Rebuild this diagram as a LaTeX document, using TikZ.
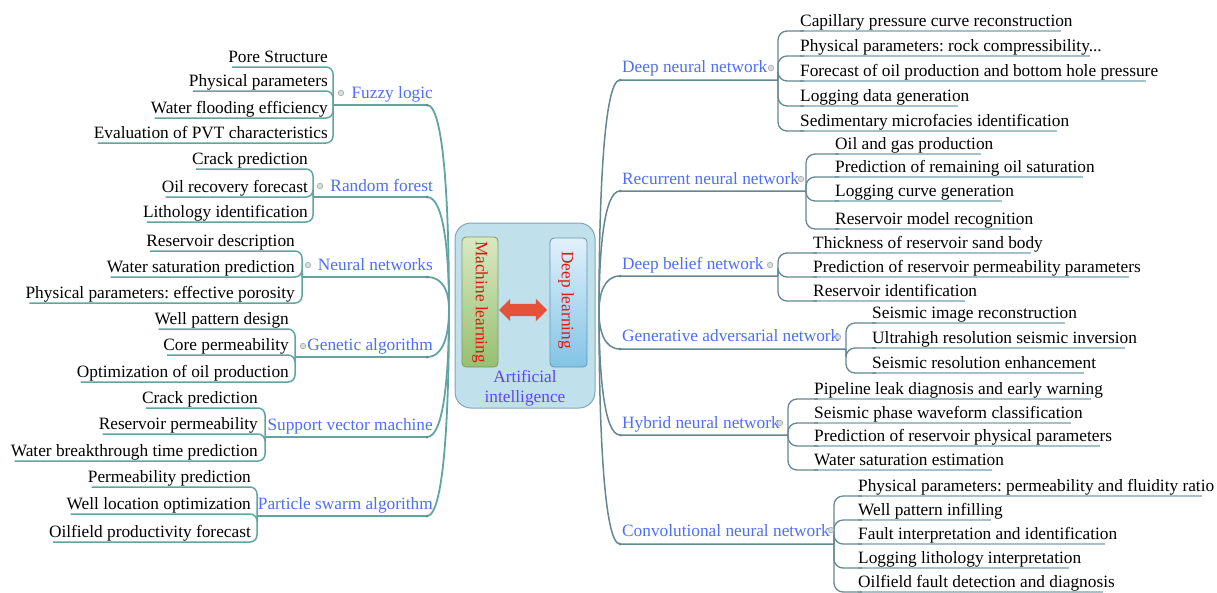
\documentclass[tikz,border=0pt]{standalone}
\usepackage{fontspec}
\setmainfont{Liberation Serif}
\usetikzlibrary{shapes.arrows}
\definecolor{labblue}{RGB}{77,110,245}
\definecolor{tealL}{RGB}{95,165,160}
\definecolor{slateR}{RGB}{100,135,145}
\definecolor{grayR}{RGB}{165,192,200}
\definecolor{knobgray}{RGB}{165,175,175}
\definecolor{knobfill}{RGB}{215,222,222}
\definecolor{aiblue}{RGB}{95,70,245}
\definecolor{redtxt}{RGB}{228,20,20}
\definecolor{arrowred}{RGB}{228,82,58}
\definecolor{outerfill}{RGB}{192,224,236}
\definecolor{outerdraw}{RGB}{130,165,180}
\frenchspacing
\begin{document}
\begin{tikzpicture}[x=1pt,y=-1pt, font=\fontsize{17.3}{20}\selectfont\frenchspacing,
 leafL/.style={anchor=base east, inner sep=0pt},
 leafR/.style={anchor=base west, inner sep=0pt},
 labL/.style={anchor=base east, inner sep=0pt, text=labblue},
 labR/.style={anchor=base west, inner sep=0pt, text=labblue},
 mainL/.style={draw=tealL, line width=1.8pt},
 brL/.style={draw=tealL, line width=1.5pt, rounded corners=7pt},
 mainR/.style={draw=slateR, line width=1.5pt},
 brR/.style={draw=slateR, line width=1.3pt, rounded corners=9pt},
 ulR/.style={draw=grayR, line width=1.6pt},
 knob/.style={circle, draw=knobgray, fill=knobfill, line width=0.7pt, inner sep=0pt, minimum size=5.5pt},
 tip/.style={circle, fill=slateR, inner sep=0pt, minimum size=3pt},
]
\useasboundingbox (0,0) rectangle (1217,592);

% ---------------- centre ----------------
\node[draw=outerdraw, line width=1pt, fill=outerfill, rounded corners=16pt, minimum width=140pt, minimum height=185pt, inner sep=0pt] (ai) at (525,315.5) {};
\node[draw={rgb,255:red,125;green,155;blue,100}, line width=0.8pt, top color={rgb,255:red,218;green,232;blue,195}, bottom color={rgb,255:red,150;green,192;blue,112}, rounded corners=4pt, minimum width=36pt, minimum height=130pt, inner sep=0pt] (mlbox) at (480,302) {};
\node[draw={rgb,255:red,100;green,150;blue,180}, line width=0.8pt, top color={rgb,255:red,225;green,240;blue,250}, bottom color={rgb,255:red,130;green,196;blue,230}, rounded corners=4pt, minimum width=37pt, minimum height=129pt, inner sep=0pt] (dlbox) at (568.5,302.5) {};
\node[rotate=-90, text=redtxt, inner sep=0pt] (ml) at (480,302) {Machine learning};
\node[rotate=-90, text=redtxt, inner sep=0pt] (dl) at (566,300) {Deep learning};
\node[double arrow, fill=arrowred, inner xsep=0pt, inner ysep=6pt, minimum height=48pt, double arrow head extend=5pt] (arr) at (523,310) {};
\node[text=aiblue, align=center, inner sep=0pt] (aitxt) at (525,388) {Artificial\\intelligence};

\coordinate (rootL) at (449,310);
\coordinate (rootR) at (599,312);

% ---------------- left side ----------------
% Fuzzy logic
\coordinate (fzb) at (427,105); \coordinate (fzj) at (333,105);
\node[labL] (fz) at (433,98) {Fuzzy logic};
\node[leafL] (fz1) at (328,62) {Pore Structure};
\node[leafL] (fz2) at (328,86) {Physical parameters};
\node[leafL] (fz3) at (328,113) {Water flooding efficiency};
\node[leafL] (fz4) at (328,138) {Evaluation of PVT characteristics};
\draw[mainL] (rootL) .. controls (449,207) and (444,105) .. (fzb) -- (fzj);
\foreach \n in {fz1,fz2,fz3,fz4} \draw[brL] (fzj) |- ([xshift=4pt,yshift=-5pt]\n.base west);
\node[knob] (fzk) at (341,93) {};

% Random forest
\coordinate (rfb) at (427,197); \coordinate (rfj) at (313,197);
\node[labL] (rf) at (433,191) {Random forest};
\node[leafL] (rf1) at (308,164) {Crack prediction};
\node[leafL] (rf2) at (308,192) {Oil recovery forecast};
\node[leafL] (rf3) at (308,217) {Lithology identification};
\draw[mainL] (rootL) .. controls (449,253) and (444,197) .. (rfb) -- (rfj);
\foreach \n in {rf1,rf2,rf3} \draw[brL] (rfj) |- ([xshift=4pt,yshift=-5pt]\n.base west);
\node[knob] (rfk) at (320,186) {};

% Neural networks
\coordinate (nnb) at (427,277); \coordinate (nnj) at (302,277);
\node[labL] (nn) at (433,270) {Neural networks};
\node[leafL] (nn1) at (295,246) {Reservoir description};
\node[leafL] (nn2) at (295,272) {Water saturation prediction};
\node[leafL] (nn3) at (295,298) {Physical parameters: effective porosity};
\draw[mainL] (rootL) .. controls (449,293) and (444,277) .. (nnb) -- (nnj);
\foreach \n in {nn1,nn2,nn3} \draw[brL] (nnj) |- ([xshift=4pt,yshift=-5pt]\n.base west);
\node[knob] (nnk) at (308,265) {};

% Genetic algorithm
\coordinate (gab) at (427,357); \coordinate (gaj) at (295,357);
\node[labL] (ga) at (433,350) {Genetic algorithm};
\node[leafL] (ga1) at (289,324) {Well pattern design};
\node[leafL] (ga2) at (289,350) {Core permeability};
\node[leafL] (ga3) at (289,377) {Optimization of oil production};
\draw[mainL] (rootL) .. controls (449,333) and (444,357) .. (gab) -- (gaj);
\foreach \n in {ga1,ga2,ga3} \draw[brL] (gaj) |- ([xshift=4pt,yshift=-5pt]\n.base west);
\node[knob] (gak) at (303,346) {};

% Support vector machine
\coordinate (svb) at (427,437); \coordinate (svj) at (265,437);
\node[labL] (sv) at (433,430) {Support vector machine};
\node[leafL] (sv1) at (258,403) {Crack prediction};
\node[leafL] (sv2) at (258,429) {Reservoir permeability};
\node[leafL] (sv3) at (258,456) {Water breakthrough time prediction};
\draw[mainL] (rootL) .. controls (449,373) and (444,437) .. (svb) -- (svj);
\foreach \n in {sv1,sv2,sv3} \draw[brL] (svj) |- ([xshift=4pt,yshift=-5pt]\n.base west);

% Particle swarm algorithm
\coordinate (psb) at (427,516); \coordinate (psj) at (257,516);
\node[labL] (ps) at (433,509) {Particle swarm algorithm};
\node[leafL] (ps1) at (251,482) {Permeability prediction};
\node[leafL] (ps2) at (251,509) {Well location optimization};
\node[leafL] (ps3) at (251,537) {Oilfield productivity forecast};
\draw[mainL] (rootL) .. controls (449,413) and (444,516) .. (psb) -- (psj);
\foreach \n in {ps1,ps2,ps3} \draw[brL] (psj) |- ([xshift=4pt,yshift=-5pt]\n.base west);

\foreach \c in {fzb,rfb,nnb,gab,svb,psb} \node[tip] at (\c) {};

% ---------------- right side ----------------
% Deep neural network
\coordinate (dnb) at (620,80); \coordinate (dnj) at (778,80);
\node[labR] (dn) at (622,72) {Deep neural network};
\node[leafR] (dn1) at (800,26) {Capillary pressure curve reconstruction};
\node[leafR] (dn2) at (800,51) {Physical parameters: rock compressibility...};
\node[leafR] (dn3) at (800,76) {Forecast of oil production and bottom hole pressure};
\node[leafR] (dn4) at (800,101) {Logging data generation};
\node[leafR] (dn5) at (800,126) {Sedimentary microfacies identification};
\draw[mainR] (rootR) .. controls (599,196) and (604,80) .. (dnb) -- (dnj);
\foreach \n in {dn1,dn2,dn3,dn4,dn5} {
  \draw[ulR] ([yshift=-5pt]\n.base west) -- ([xshift=-12pt,yshift=-5pt]\n.base east);
  \draw[brR] (dnj) |- ([xshift=4pt,yshift=-5pt]\n.base west);}
\node[knob] (dnk) at (771,68) {};

% Recurrent neural network
\coordinate (rnb) at (620,191); \coordinate (rnj) at (806,191);
\node[labR] (rn) at (622,184) {Recurrent neural network};
\node[leafR] (rn1) at (835,149) {Oil and gas production};
\node[leafR] (rn2) at (835,172) {Prediction of remaining oil saturation};
\node[leafR] (rn3) at (835,196) {Logging curve generation};
\node[leafR] (rn4) at (835,224) {Reservoir model recognition};
\draw[mainR] (rootR) .. controls (599,251) and (604,191) .. (rnb) -- (rnj);
\foreach \n in {rn1,rn2,rn3,rn4} {
  \draw[ulR] ([yshift=-5pt]\n.base west) -- ([xshift=-12pt,yshift=-5pt]\n.base east);
  \draw[brR] (rnj) |- ([xshift=4pt,yshift=-5pt]\n.base west);}
\node[knob] (rnk) at (801,179) {};

% Deep belief network
\coordinate (dbb) at (620,276); \coordinate (dbj) at (778,276);
\node[labR] (db) at (622,269) {Deep belief network};
\node[leafR] (db1) at (813,248) {Thickness of reservoir sand body};
\node[leafR] (db2) at (813,272) {Prediction of reservoir permeability parameters};
\node[leafR] (db3) at (813,296) {Reservoir identification};
\draw[mainR] (rootR) .. controls (599,294) and (604,276) .. (dbb) -- (dbj);
\foreach \n in {db1,db2,db3} {
  \draw[ulR] ([yshift=-5pt]\n.base west) -- ([xshift=-12pt,yshift=-5pt]\n.base east);
  \draw[brR] (dbj) |- ([xshift=4pt,yshift=-5pt]\n.base west);}
\node[knob] (dbk) at (770,265) {};

% Generative adversarial network
\coordinate (gnb) at (620,349); \coordinate (gnj) at (846,349);
\node[labR] (gn) at (622,341) {Generative adversarial network};
\node[leafR] (gn1) at (872,318) {Seismic image reconstruction};
\node[leafR] (gn2) at (872,343) {Ultrahigh resolution seismic inversion};
\node[leafR] (gn3) at (872,368) {Seismic resolution enhancement};
\draw[mainR] (rootR) .. controls (599,330) and (604,349) .. (gnb) -- (gnj);
\foreach \n in {gn1,gn2,gn3} {
  \draw[ulR] ([yshift=-5pt]\n.base west) -- ([xshift=-12pt,yshift=-5pt]\n.base east);
  \draw[brR] (gnj) |- ([xshift=4pt,yshift=-5pt]\n.base west);}
\node[knob] (gnk) at (838,337) {};

% Hybrid neural network
\coordinate (hnb) at (620,435); \coordinate (hnj) at (788,435);
\node[labR] (hn) at (622,428) {Hybrid neural network};
\node[leafR] (hn1) at (814,394) {Pipeline leak diagnosis and early warning};
\node[leafR] (hn2) at (814,418) {Seismic phase waveform classification};
\node[leafR] (hn3) at (814,441) {Prediction of reservoir physical parameters};
\node[leafR] (hn4) at (814,465) {Water saturation estimation};
\draw[mainR] (rootR) .. controls (599,373) and (604,435) .. (hnb) -- (hnj);
\foreach \n in {hn1,hn2,hn3,hn4} {
  \draw[ulR] ([yshift=-5pt]\n.base west) -- ([xshift=-12pt,yshift=-5pt]\n.base east);
  \draw[brR] (hnj) |- ([xshift=4pt,yshift=-5pt]\n.base west);}
\node[knob] (hnk) at (780,423) {};

% Convolutional neural network
\coordinate (cnb) at (620,544); \coordinate (cnj) at (834,544);
\node[labR] (cn) at (622,536) {Convolutional neural network};
\node[leafR] (cn1) at (858,491) {Physical parameters: permeability and fluidity ratio};
\node[leafR] (cn2) at (858,515) {Well pattern infilling};
\node[leafR] (cn3) at (858,539) {Fault interpretation and identification};
\node[leafR] (cn4) at (858,563) {Logging lithology interpretation};
\node[leafR] (cn5) at (858,587) {Oilfield fault detection and diagnosis};
\draw[mainR] (rootR) .. controls (599,428) and (604,544) .. (cnb) -- (cnj);
\foreach \n in {cn1,cn2,cn3,cn4,cn5} {
  \draw[ulR] ([yshift=-5pt]\n.base west) -- ([xshift=-12pt,yshift=-5pt]\n.base east);
  \draw[brR] (cnj) |- ([xshift=4pt,yshift=-5pt]\n.base west);}
\node[knob] (cnk) at (831,530) {};

\foreach \c in {dnb,rnb,dbb,gnb,hnb,cnb} \node[tip] at (\c) {};
\end{tikzpicture}
\end{document}
